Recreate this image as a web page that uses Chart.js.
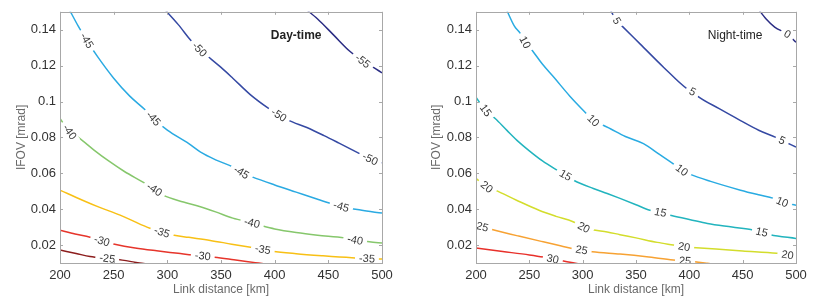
<!DOCTYPE html>
<html>
<head>
<meta charset="utf-8">
<script src="https://cdn.jsdelivr.net/npm/chart.js@4/dist/chart.umd.min.js"></script>
<style>
  html, body { margin: 0; padding: 0; background: #fff; width: 817px; height: 306px; overflow: hidden; }
  canvas { position: absolute; top: 0; }
  #day { left: 0; }
  #night { left: 415px; }
</style>
</head>
<body>
<canvas id="day" width="400" height="306"></canvas>
<canvas id="night" width="402" height="306"></canvas>
<script>
// Two contour panels (link budget vs link distance and IFOV), each contour
// as [distance km, IFOV mrad] pairs.

const distTicks = [200, 250, 300, 350, 400, 450, 500];
const ifovTicks = [0.02, 0.04, 0.06, 0.08, 0.1, 0.12, 0.14];

// Day-time contours
const dayLevels = [-55, -50, -45, -40, -35, -30, -25];
const dayM55 = [[428, 0.152], [440, 0.146], [455, 0.137], [470, 0.128], [482, 0.1225], [492, 0.119], [500, 0.116]];
const dayM50 = [[298, 0.151], [310, 0.143], [322, 0.134], [330, 0.129], [337, 0.1255], [350, 0.119], [361, 0.113],
  [377, 0.104], [394, 0.0963], [404, 0.0925], [413, 0.0895], [430, 0.0855], [446, 0.081], [460, 0.0768],
  [480, 0.0707], [489, 0.068], [500, 0.066]];
const dayM45 = [[208, 0.152], [217, 0.142], [225, 0.134], [235, 0.125], [250, 0.113], [265, 0.103], [280, 0.095],
  [287, 0.0905], [300, 0.084], [320, 0.0765], [331, 0.0718], [345, 0.0675], [361, 0.0635], [369, 0.0605],
  [379, 0.058], [400, 0.0535], [420, 0.0495], [440, 0.0455], [452, 0.0432], [462, 0.0415], [480, 0.0395], [500, 0.0378]];
const dayM40 = [[200, 0.0906], [209, 0.083], [217, 0.080], [232, 0.0728], [245, 0.067], [260, 0.061], [279, 0.0545],
  [288, 0.051], [296, 0.0478], [315, 0.044], [330, 0.0415], [345, 0.0385], [361, 0.035], [379, 0.0323],
  [389, 0.0306], [400, 0.029], [420, 0.027], [440, 0.0255], [465, 0.024], [475, 0.0228], [500, 0.0211]];
const dayM35 = [[200, 0.0506], [221, 0.045], [237, 0.041], [256, 0.0367], [281, 0.030], [295, 0.0272], [305, 0.0256],
  [320, 0.0243], [340, 0.0226], [360, 0.0205], [382, 0.0183], [389, 0.0176], [398, 0.0166], [420, 0.0152],
  [445, 0.014], [472, 0.0129], [486, 0.0125], [500, 0.0122]];
const dayM30 = [[200, 0.0283], [214, 0.0262], [228, 0.0244], [239, 0.0223], [251, 0.0205], [270, 0.0184], [290, 0.0168],
  [310, 0.0154], [324, 0.0144], [333, 0.0139], [344, 0.0132], [362, 0.0118], [382, 0.0102], [392, 0.0094]];
const dayM25 = [[200, 0.0172], [215, 0.0153], [228, 0.0136], [244, 0.0125], [258, 0.0116], [274, 0.0100], [282, 0.0094]];

const dayM55Labels = [482];
const dayM50Labels = [330, 404, 489];
const dayM45Labels = [225, 287, 369, 462];
const dayM40Labels = [209, 288, 379, 475];
const dayM35Labels = [295, 389, 486];
const dayM30Labels = [239, 333];
const dayM25Labels = [244];

// Night-time contours
const nightLevels = [0, 5, 10, 15, 20, 25, 30];
const night0 = [[464, 0.152], [472, 0.146], [480, 0.1415], [492, 0.1375], [500, 0.133]];
const night5 = [[325, 0.152], [332, 0.145], [337, 0.142], [354, 0.132], [376, 0.119], [398, 0.107], [403, 0.1055],
  [407, 0.1033], [428, 0.096], [448, 0.0894], [465, 0.084], [481, 0.080], [487, 0.0783], [500, 0.0746]];
const night10 = [[228, 0.152], [236, 0.142], [241.5, 0.138], [246, 0.133], [252, 0.129], [262, 0.121], [273, 0.1135],
  [288, 0.103], [304, 0.093], [310, 0.0894], [318, 0.0872], [326, 0.0848], [340, 0.0805], [357, 0.0765],
  [372, 0.0705], [387, 0.0644], [393, 0.0617], [401, 0.0594], [420, 0.0555], [448, 0.0506], [465, 0.048],
  [479, 0.046], [487, 0.044], [500, 0.0422]];
const night15 = [[200, 0.1024], [209, 0.095], [218, 0.0905], [229, 0.0839], [240, 0.0775], [250, 0.0725], [262, 0.067],
  [276, 0.0617], [284, 0.0589], [292, 0.056], [310, 0.0515], [323, 0.0487], [335, 0.046], [350, 0.0425],
  [363, 0.0394], [373, 0.0382], [381, 0.0367], [400, 0.0343], [417, 0.032], [440, 0.030], [460, 0.0283],
  [468, 0.0272], [476, 0.0258], [500, 0.0237]];
const night20 = [[200, 0.0572], [210, 0.0524], [218, 0.0506], [238, 0.045], [259, 0.0394], [275, 0.036], [291, 0.033],
  [301, 0.0298], [309, 0.0285], [323, 0.0273], [335, 0.0258], [350, 0.024], [370, 0.0215], [385, 0.020],
  [395, 0.019], [403, 0.0187], [425, 0.0178], [450, 0.0167], [482, 0.0154], [492, 0.0145], [500, 0.0142]];
const night25 = [[200, 0.0311], [206, 0.0302], [215, 0.0287], [240, 0.025], [263, 0.0218], [280, 0.0195], [291, 0.018],
  [299, 0.0172], [309, 0.0163], [335, 0.015], [360, 0.0135], [385, 0.0117], [396, 0.0112], [417, 0.0098], [425, 0.0092]];
const night30 = [[200, 0.0183], [225, 0.0164], [250, 0.0145], [263, 0.0133], [272, 0.0122], [282, 0.0111],
  [291, 0.0101], [298, 0.0094]];

const night0Labels = [492];
const night5Labels = [332, 403, 487];
const night10Labels = [246, 310, 393, 487];
const night15Labels = [209, 284, 373, 468];
const night20Labels = [210, 301, 395, 492];
const night25Labels = [206, 299, 396];
const night30Labels = [272];

const dayColors = ['#2b2d84', '#3549a3', '#2aaae2', '#86c76c', '#f8c015', '#e6352b', '#8c1d1d'];
const nightColors = ['#2b2d84', '#3549a3', '#29abe2', '#22b4be', '#d3dd2c', '#f7a233', '#e8302a'];

const FONT = '"Liberation Sans", Arial, Helvetica, sans-serif';

function buildDatasets(levels, lines, labels, colors) {
  return levels.map((level, i) => ({
    label: String(level),
    level,
    labelAt: labels[i],
    data: lines[i].map(([x, y]) => ({ x, y })),
    borderColor: colors[i],
    borderWidth: 1.5,
    pointRadius: 0,
    fill: false,
    cubicInterpolationMode: 'monotone'
  }));
}

// Inline contour labels: a white patch over the line, the level rotated along it.
const contourLabels = {
  id: 'contourLabels',
  afterDatasetsDraw(chart) {
    const { ctx, chartArea } = chart;
    const { x: xs, y: ys } = chart.scales;
    ctx.save();
    ctx.beginPath();
    ctx.rect(chartArea.left, chartArea.top, chartArea.right - chartArea.left, chartArea.bottom - chartArea.top);
    ctx.clip();
    ctx.font = '11px ' + FONT;
    chart.data.datasets.forEach((ds) => {
      const pts = ds.data;
      (ds.labelAt || []).forEach((lx) => {
        let i = pts.findIndex((p) => p.x >= lx);
        if (i <= 0) i = 1;
        const a = pts[i - 1];
        const b = pts[i];
        const t = (lx - a.x) / (b.x - a.x);
        const px = xs.getPixelForValue(lx);
        const py = ys.getPixelForValue(a.y + t * (b.y - a.y));
        const ang = Math.atan2(
          ys.getPixelForValue(b.y) - ys.getPixelForValue(a.y),
          xs.getPixelForValue(b.x) - xs.getPixelForValue(a.x)
        );
        const text = String(ds.level);
        const w = ctx.measureText(text).width;
        ctx.save();
        ctx.translate(px, py);
        ctx.rotate(ang);
        ctx.fillStyle = '#fff';
        ctx.fillRect(-w / 2 - 4, -4.5, w + 8, 9);
        ctx.fillStyle = '#3a3a3a';
        ctx.textAlign = 'center';
        ctx.textBaseline = 'middle';
        ctx.fillText(text, 0, 0.5);
        ctx.restore();
      });
    });
    ctx.restore();

    // panel note
    const note = chart.options.plugins.contourLabels.note;
    if (note) {
      ctx.save();
      ctx.font = note.weight + ' 12px ' + FONT;
      ctx.fillStyle = '#222';
      ctx.textAlign = 'center';
      ctx.textBaseline = 'middle';
      ctx.fillText(note.text, xs.getPixelForValue(note.x), ys.getPixelForValue(note.y));
      ctx.restore();
    }

    // MATLAB-style box with inward ticks
    const { left, right, top, bottom } = chartArea;
    ctx.save();
    ctx.strokeStyle = '#a8a8a8';
    ctx.lineWidth = 1;
    ctx.strokeRect(Math.round(left) + 0.5, Math.round(top) + 0.5, Math.round(right - left), Math.round(bottom - top));
    ctx.beginPath();
    distTicks.forEach((v) => {
      const p = Math.round(xs.getPixelForValue(v)) + 0.5;
      ctx.moveTo(p, bottom); ctx.lineTo(p, bottom - 3);
      ctx.moveTo(p, top); ctx.lineTo(p, top + 3);
    });
    ifovTicks.forEach((v) => {
      const p = Math.round(ys.getPixelForValue(v)) + 0.5;
      ctx.moveTo(left, p); ctx.lineTo(left + 3, p);
      ctx.moveTo(right, p); ctx.lineTo(right - 3, p);
    });
    ctx.stroke();
    ctx.restore();
  }
};

function makePanel(id, datasets, note, yWidth, padRight) {
  return new Chart(document.getElementById(id), {
    type: 'line',
    data: { datasets },
    options: {
      responsive: false,
      animation: false,
      devicePixelRatio: 1,
      layout: { padding: { top: 11, right: padRight, bottom: 0, left: 0 } },
      plugins: {
        legend: { display: false },
        tooltip: { enabled: false },
        contourLabels: { note }
      },
      scales: {
        x: {
          type: 'linear',
          min: 200,
          max: 500,
          afterBuildTicks: (scale) => { scale.ticks = distTicks.map((value) => ({ value })); },
          afterFit: (scale) => { scale.height = 43; },
          grid: { display: false, drawTicks: false },
          border: { display: false },
          ticks: { color: '#333', font: { family: FONT, size: 13 }, padding: 5, maxRotation: 0 },
          title: { display: true, text: 'Link distance [km]', color: '#6a6a6a', font: { family: FONT, size: 12 }, padding: { bottom: 9 } }
        },
        y: {
          type: 'linear',
          min: 0.01,
          max: 0.15,
          afterBuildTicks: (scale) => { scale.ticks = ifovTicks.map((value) => ({ value })); },
          afterFit: (scale) => { scale.width = yWidth; },
          grid: { display: false, drawTicks: false },
          border: { display: false },
          ticks: {
            color: '#333',
            font: { family: FONT, size: 13 },
            padding: 4,
            callback: (v) => String(Number(v.toFixed(2)))
          },
          title: { display: true, text: 'IFOV [mrad]', color: '#6a6a6a', font: { family: FONT, size: 12 }, padding: { top: 14 } }
        }
      }
    },
    plugins: [contourLabels]
  });
}

makePanel('day',
  buildDatasets(dayLevels,
    [dayM55, dayM50, dayM45, dayM40, dayM35, dayM30, dayM25],
    [dayM55Labels, dayM50Labels, dayM45Labels, dayM40Labels, dayM35Labels, dayM30Labels, dayM25Labels],
    dayColors),
  { text: 'Day-time', x: 420, y: 0.1365, weight: '600' }, 60, 18);

makePanel('night',
  buildDatasets(nightLevels,
    [night0, night5, night10, night15, night20, night25, night30],
    [night0Labels, night5Labels, night10Labels, night15Labels, night20Labels, night25Labels, night30Labels],
    nightColors),
  { text: 'Night-time', x: 443, y: 0.1365, weight: 'normal' }, 61, 21);
</script>
</body>
</html>
